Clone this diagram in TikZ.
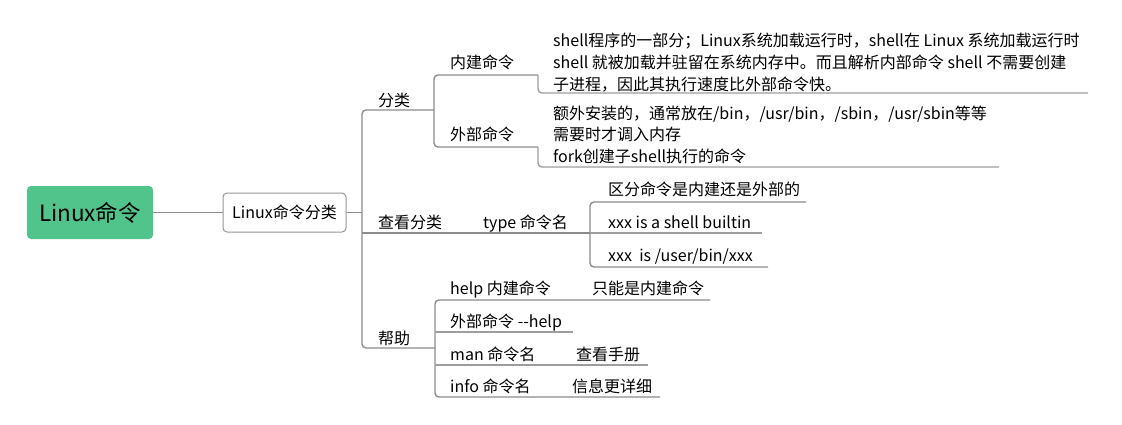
\documentclass[tikz,border=0pt]{standalone}
\usepackage{fontspec}
\setmainfont{Noto Sans CJK SC}
\definecolor{rootgreen}{RGB}{80,196,138}
\definecolor{linegray}{RGB}{140,140,140}
\definecolor{boxgray}{RGB}{150,150,150}
\begin{document}
\begin{tikzpicture}[x=1pt,y=-1pt,
  conn/.style={draw=linegray,line width=1.4pt,rounded corners=4pt},
  ul/.style={draw=linegray!85,line width=1.4pt,rounded corners=4pt},
  txt/.style={anchor=base west,inner sep=0pt,font=\fontsize{16}{22}\selectfont},
  rootbox/.style={fill=rootgreen,rounded corners=4pt,minimum width=126pt,minimum height=53pt,inner sep=0pt,font=\fontsize{22.5}{26}\selectfont},
  catbox/.style={draw=boxgray,fill=white,line width=1pt,rounded corners=4pt,minimum width=123pt,minimum height=39pt,inner sep=0pt,font=\fontsize{16}{20}\selectfont}]
\useasboundingbox (0,0) rectangle (1122,424);
\fill[white] (0,0) rectangle (1122,424);

% nodes
\node[rootbox] (root) at (90,212.5) {Linux命令};
\node[catbox] (cat) at (284.5,212.5) {Linux命令分类};

\node[txt] (fl) at (378,106) {分类};
\node[txt] (nj) at (450,68) {内建命令};
\node[txt] (wb) at (450,140) {外部命令};
\node[txt] (njd1) at (553,46) {shell程序的一部分；Linux系统加载运行时，shell在 Linux 系统加载运行时};
\node[txt] (njd2) at (553,68) {shell 就被加载并驻留在系统内存中。而且解析内部命令 shell 不需要创建};
\node[txt] (njd3) at (553,90) {子进程，因此其执行速度比外部命令快。};
\node[txt] (wbd1) at (553,119) {额外安装的，通常放在/bin，/usr/bin，/sbin，/usr/sbin等等};
\node[txt] (wbd2) at (553,140) {需要时才调入内存};
\node[txt] (wbd3) at (553,162) {fork创建子shell执行的命令};

\node[txt] (ck) at (378,228) {查看分类};
\node[txt] (tp) at (483,228) {type 命令名};
\node[txt] (qf) at (608,195) {区分命令是内建还是外部的};
\node[txt] (xb) at (608,228) {xxx is a shell builtin};
\node[txt] (xu) at (608,261) {xxx\ \ is /user/bin/xxx};

\node[txt] (bz) at (378,344) {帮助};
\node[txt] (hp) at (450,294) {help 内建命令};
\node[txt] (zn) at (592,294) {只能是内建命令};
\node[txt] (wh) at (450,327) {外部命令 -{}-help};
\node[txt] (mn) at (450,360) {man 命令名};
\node[txt] (sc) at (576,360) {查看手册};
\node[txt] (inf) at (450,392) {info 命令名};
\node[txt] (xx) at (572,392) {信息更详细};

% junction coordinates
\coordinate (spine) at (362,212.5);
\coordinate (flA) at (362,110);  \coordinate (flB) at (434,110);
\coordinate (bzA) at (362,348);  \coordinate (bzB) at (435,348);
\coordinate (njA) at (434,75);   \coordinate (njB) at (538,75);
\coordinate (wbA) at (434,147);  \coordinate (wbB) at (538,147);
\coordinate (njdA) at (538,93);  \coordinate (njdB) at (1088,93);
\coordinate (wbdA) at (538,167); \coordinate (wbdB) at (999,167);
\coordinate (ckA) at (362,233);  \coordinate (ckB) at (590,233);
\coordinate (qfA) at (590,202);  \coordinate (qfB) at (806,202);
\coordinate (xbB) at (762,233);
\coordinate (xuA) at (590,267);  \coordinate (xuB) at (768,267);
\coordinate (hpA) at (435,300);  \coordinate (hpB) at (710,300);
\coordinate (whA) at (435,332);  \coordinate (whB) at (573,332);
\coordinate (mnA) at (435,365);  \coordinate (mnB) at (648,365);
\coordinate (infA) at (435,397); \coordinate (infB) at (660,397);

% connectors
\draw[conn] (root.east) -- (cat.west);
\draw[conn] (cat.east) -- (spine);
\draw[conn] (flB) -- (flA) -- (bzA) -- (bzB);
\draw[conn] (ckA) -- (ckB);
% 分类 subtree
\draw[conn] (njB) -- (njA) -- (wbA) -- (wbB);
\draw[ul] (njB) -- (njdA) -- (njdB);
\draw[ul] (wbB) -- (wbdA) -- (wbdB);
% 查看分类 subtree
\draw[conn] (qfB) -- (qfA) -- (xuA) -- (xuB);
\draw[ul] (ckB) -- (xbB);
% 帮助 subtree
\draw[conn] (hpB) -- (hpA) -- (infA) -- (infB);
\draw[ul] (whA) -- (whB);
\draw[ul] (mnA) -- (mnB);
\end{tikzpicture}
\end{document}
